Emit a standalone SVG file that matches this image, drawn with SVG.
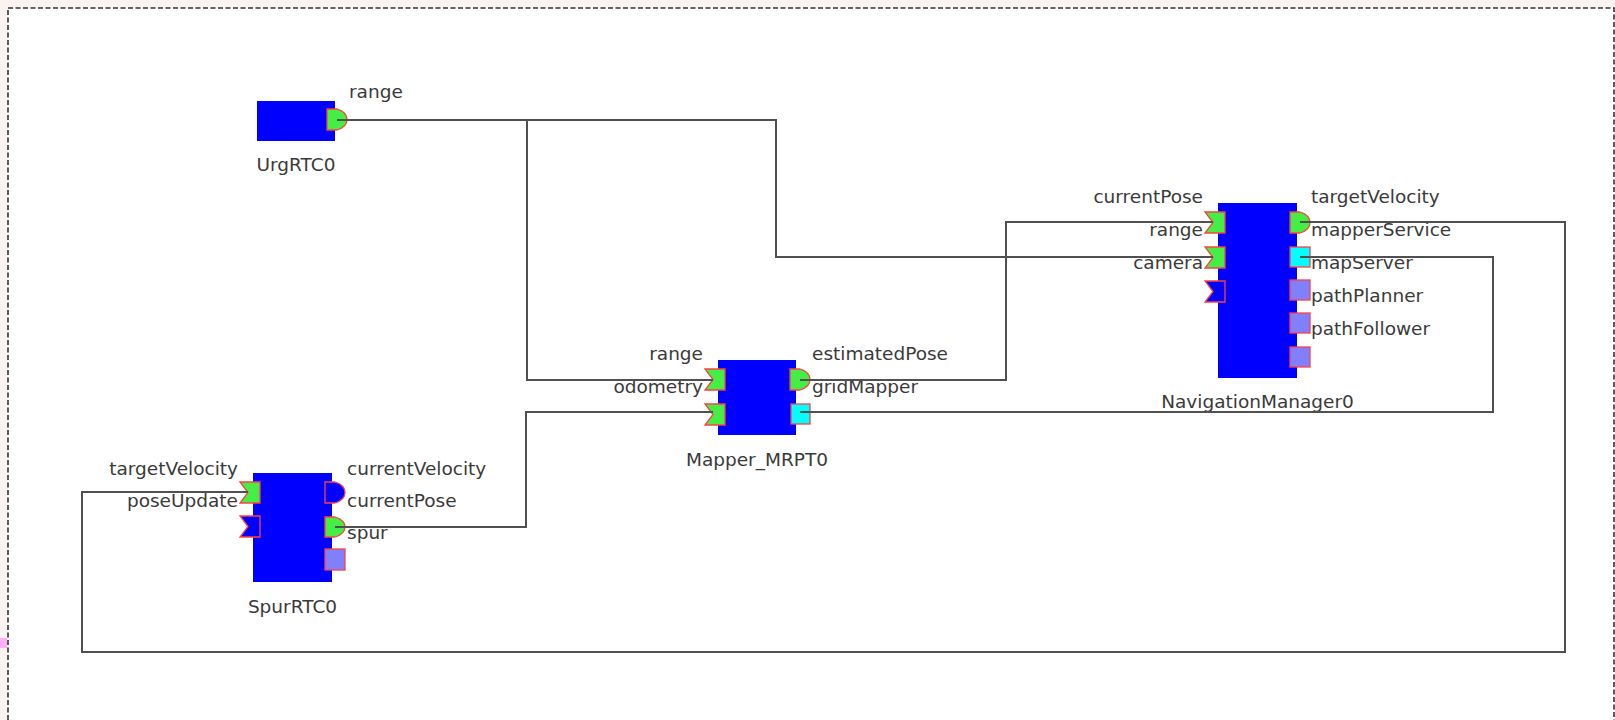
<svg xmlns="http://www.w3.org/2000/svg" width="1615" height="720" viewBox="0 0 1615 720">
<style>
.bg{fill:#faf3f2}
.frame{fill:#ffffff;stroke:#333;stroke-width:1.6;stroke-dasharray:5 2.5}
.box{fill:#0000ff}
.pin{fill:#44ee44;stroke:#ff4040;stroke-width:1.3}
.pout{fill:#44ee44;stroke:#ff4040;stroke-width:1.3}
.poff{fill:#0000ff;stroke:#ff4040;stroke-width:1.3}
.svc{fill:#8080ff;stroke:#ff4040;stroke-width:1.3}
.svcon{fill:#00ffff;stroke:#ff4040;stroke-width:1.3}
text{font-family:"DejaVu Sans","Liberation Sans",sans-serif;font-size:18.5px;fill:#3a3a3a}
.r{text-anchor:end}
.c{text-anchor:middle}
.wire{fill:none;stroke:#505050;stroke-width:2}
</style>
<rect class="bg" x="0" y="0" width="1615" height="720"/>
<rect class="frame" x="8" y="8" width="1606" height="730"/>
<rect x="0" y="638" width="7" height="10" fill="#ffb0f8"/>

<g id="UrgRTC0">
<rect class="box" x="257" y="101" width="78" height="40"/>
<path class="pout" d="M327,109 H337 Q347,112 347,119.5 Q347,127 337,130 H327 Z"/>
<text x="349" y="98">range</text>
<text class="c" x="296" y="171">UrgRTC0</text>
</g>

<g id="Mapper_MRPT0">
<rect class="box" x="718" y="360" width="78" height="75"/>
<path class="pin" d="M705,369 H725 V390 H705 L713,379.5 Z"/>
<path class="pin" d="M705,404 H725 V425 H705 L713,414.5 Z"/>
<path class="pout" d="M790,369 H800 Q810,372 810,379.5 Q810,387 800,390 H790 Z"/>
<rect class="svcon" x="791" y="404" width="19" height="20"/>
<text class="r" x="703" y="360">range</text>
<text class="r" x="703" y="393">odometry</text>
<text x="812" y="360">estimatedPose</text>
<text x="812" y="393">gridMapper</text>
<text class="c" x="757" y="466">Mapper_MRPT0</text>
</g>

<g id="NavigationManager0">
<rect class="box" x="1218" y="203" width="79" height="175"/>
<path class="pin" d="M1205,212 H1225 V233 H1205 L1213,222.5 Z"/>
<path class="pin" d="M1205,247 H1225 V268 H1205 L1213,257.5 Z"/>
<path class="poff" d="M1205,281 H1225 V302 H1205 L1213,291.5 Z"/>
<path class="pout" d="M1290,212 H1300 Q1310,215 1310,222.5 Q1310,230 1300,233 H1290 Z"/>
<rect class="svcon" x="1290" y="247" width="20" height="20"/>
<rect class="svc" x="1290" y="280" width="20" height="20"/>
<rect class="svc" x="1290" y="313" width="20" height="20"/>
<rect class="svc" x="1290" y="347" width="20" height="20"/>
<text class="r" x="1203" y="203">currentPose</text>
<text class="r" x="1203" y="236">range</text>
<text class="r" x="1203" y="269">camera</text>
<text x="1311" y="203">targetVelocity</text>
<text x="1311" y="236">mapperService</text>
<text x="1311" y="269">mapServer</text>
<text x="1311" y="302">pathPlanner</text>
<text x="1311" y="335">pathFollower</text>
<text class="c" x="1257.5" y="408">NavigationManager0</text>
</g>

<g id="SpurRTC0">
<rect class="box" x="253" y="473" width="79" height="109"/>
<path class="pin" d="M240,482 H260 V503 H240 L248,492.5 Z"/>
<path class="poff" d="M240,516 H260 V537 H240 L248,526.5 Z"/>
<path class="poff" d="M325,482 H335 Q345,485 345,492.5 Q345,500 335,503 H325 Z"/>
<path class="pout" d="M325,517 H335 Q345,520 345,527 Q345,534 335,537 H325 Z"/>
<rect class="svc" x="325" y="549" width="20" height="21"/>
<text class="r" x="238" y="475">targetVelocity</text>
<text class="r" x="238" y="507">poseUpdate</text>
<text x="347" y="475">currentVelocity</text>
<text x="347" y="507">currentPose</text>
<text x="347" y="539">spur</text>
<text class="c" x="292.5" y="613">SpurRTC0</text>
</g>

<g id="connectors">
<path class="wire" d="M337,120 H776 V257 H1213"/>
<path class="wire" d="M527,120 V380 H713"/>
<path class="wire" d="M800,380 H1006 V222 H1213"/>
<path class="wire" d="M1300,222 H1565 V652 H82 V492 H248"/>
<path class="wire" d="M1300,257 H1493 V412 H800"/>
<path class="wire" d="M335,527 H526 V412 H713"/>
</g>
</svg>
